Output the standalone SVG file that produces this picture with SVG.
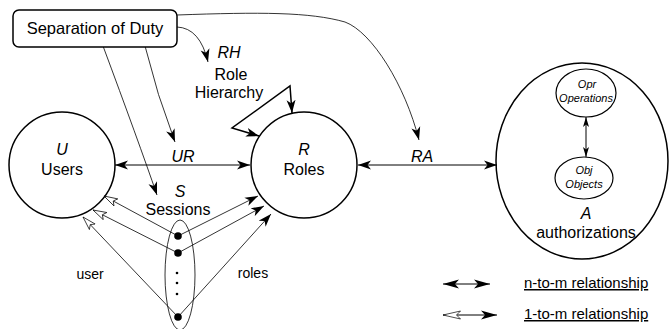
<svg xmlns="http://www.w3.org/2000/svg" width="671" height="329" viewBox="0 0 671 329">
<style>
text{font-family:"Liberation Sans",Arial,sans-serif;fill:#000;text-anchor:middle}
.lbl{font-size:16px}
.it{font-size:16px;font-style:italic}
.sm{font-size:11px;font-style:italic}
.side{font-size:14px}
.leg{font-size:15px;text-anchor:start;text-decoration:underline}
.node{fill:none;stroke:#000;stroke-width:1.5}
.thin{fill:none;stroke:#000;stroke-width:0.8}
.mid{fill:none;stroke:#000;stroke-width:1}
.thick{fill:none;stroke:#000;stroke-width:1.5}
</style>
<defs>
<marker id="sa" markerUnits="userSpaceOnUse" markerWidth="15" markerHeight="10" refX="13" refY="4.5" orient="auto-start-reverse" viewBox="0 0 15 9">
<path d="M0,0 L13,4.5 L0,9 L3.5,4.5 Z" fill="#000"/>
</marker>
<marker id="oa" markerUnits="userSpaceOnUse" markerWidth="15" markerHeight="10" refX="14" refY="4.5" orient="auto-start-reverse" viewBox="0 0 15 9">
<path d="M0.5,0.5 L14,4.5 L0.5,8.5 L3.5,4.5 Z" fill="#fff" stroke="#000" stroke-width="0.7"/>
</marker>
<marker id="la" markerUnits="userSpaceOnUse" markerWidth="17" markerHeight="10" refX="16" refY="4.5" orient="auto-start-reverse" viewBox="0 0 17 9">
<path d="M0,0 L16,4.5 L0,9 L4,4.5 Z" fill="#000"/>
</marker>
<marker id="lo" markerUnits="userSpaceOnUse" markerWidth="19" markerHeight="10" refX="18" refY="4.5" orient="auto-start-reverse" viewBox="0 0 19 9">
<path d="M0.5,0.5 L18,4.5 L0.5,8.5 L4.5,4.5 Z" fill="#fff" stroke="#000" stroke-width="0.7"/>
</marker>
<marker id="na" markerUnits="userSpaceOnUse" markerWidth="12" markerHeight="8" refX="10" refY="3" orient="auto-start-reverse" viewBox="0 0 12 6">
<path d="M0,0 L10,3 L0,6 L2.5,3 Z" fill="#000"/>
</marker>
</defs>

<g id="connectors">
<path class="thin" d="M177,15 C260,12 310,12 345,22 C372,32 405,85 419,140" marker-end="url(#sa)"/>
<path class="thin" d="M177,27 Q200,28 208,62" marker-end="url(#sa)"/>
<path class="thin" d="M145,46 Q157,95 175,142" marker-end="url(#sa)"/>
<path class="thin" d="M103,46 Q138,140 157,195" marker-end="url(#sa)"/>
<line class="mid" x1="115" y1="165" x2="250" y2="165" marker-start="url(#sa)" marker-end="url(#sa)"/>
<line class="mid" x1="358" y1="165" x2="497" y2="165" marker-start="url(#sa)" marker-end="url(#sa)"/>
<path class="thick" d="M259,136 L232,128 L290,86 L292,113" marker-start="url(#sa)" marker-end="url(#sa)"/>
<line class="thin" x1="178" y1="236" x2="104" y2="196" marker-end="url(#oa)"/>
<line class="thin" x1="178" y1="253" x2="93" y2="210" marker-end="url(#oa)"/>
<line class="thin" x1="178" y1="317" x2="83" y2="217" marker-end="url(#oa)"/>
<line class="thin" x1="178" y1="236" x2="258" y2="196" marker-end="url(#sa)"/>
<line class="thin" x1="178" y1="253" x2="264" y2="206" marker-end="url(#sa)"/>
<line class="thin" x1="178" y1="317" x2="271" y2="214" marker-end="url(#sa)"/>
<line class="mid" x1="586" y1="117" x2="586" y2="157" marker-start="url(#na)" marker-end="url(#na)"/>
<text class="it" x="183" y="162">UR</text>
<text class="it" x="422" y="162">RA</text>
<text class="side" x="90" y="279">user</text>
<text class="side" x="253" y="278">roles</text>
</g>

<g id="sod">
<rect x="13" y="10" width="164" height="37" rx="6" ry="6" class="node" style="fill:#fff"/>
<text x="95" y="34" style="font-size:16.5px">Separation of Duty</text>
</g>

<g id="rh">
<text class="it" x="229" y="58">RH</text>
<text class="lbl" x="231" y="80">Role</text>
<text class="lbl" x="229" y="98">Hierarchy</text>
</g>

<g id="users">
<circle cx="62" cy="165" r="53" class="node"/>
<text class="it" x="62" y="155">U</text>
<text class="lbl" x="62" y="175">Users</text>
</g>

<g id="roles">
<circle cx="304" cy="165" r="53" class="node"/>
<text class="it" x="304" y="155">R</text>
<text class="lbl" x="304" y="175">Roles</text>
</g>

<g id="sessions">
<text class="it" x="180" y="197">S</text>
<text class="lbl" x="178" y="215">Sessions</text>
<ellipse cx="180" cy="275" rx="15" ry="55" fill="none" stroke="#000" stroke-width="0.8"/>
<circle cx="178" cy="236" r="3.8"/>
<circle cx="178" cy="253" r="3.8"/>
<circle cx="177" cy="273" r="1.3"/>
<circle cx="177" cy="283" r="1.3"/>
<circle cx="177" cy="294" r="1.3"/>
<circle cx="178" cy="317" r="3.8"/>
</g>

<g id="authorizations">
<ellipse cx="582" cy="161" rx="86" ry="98" class="node"/>
<text class="it" x="586" y="219">A</text>
<text class="lbl" x="586" y="238">authorizations</text>
</g>

<g id="operations">
<ellipse cx="586" cy="93" rx="30" ry="24" fill="none" stroke="#000" stroke-width="1.2"/>
<text class="sm" x="587" y="88">Opr</text>
<text class="sm" x="586" y="102">Operations</text>
</g>

<g id="objects">
<ellipse cx="584" cy="178" rx="29" ry="21" fill="none" stroke="#000" stroke-width="1.2"/>
<text class="sm" x="584" y="174">Obj</text>
<text class="sm" x="584" y="188">Objects</text>
</g>

<g id="legend">
<line class="mid" x1="443" y1="284" x2="490" y2="284" marker-start="url(#la)" marker-end="url(#la)"/>
<line class="mid" x1="443" y1="315" x2="497" y2="315" marker-start="url(#lo)" marker-end="url(#la)"/>
<text class="leg" x="524" y="288">n-to-m relationship</text>
<text class="leg" x="524" y="319">1-to-m relationship</text>
</g>
</svg>
